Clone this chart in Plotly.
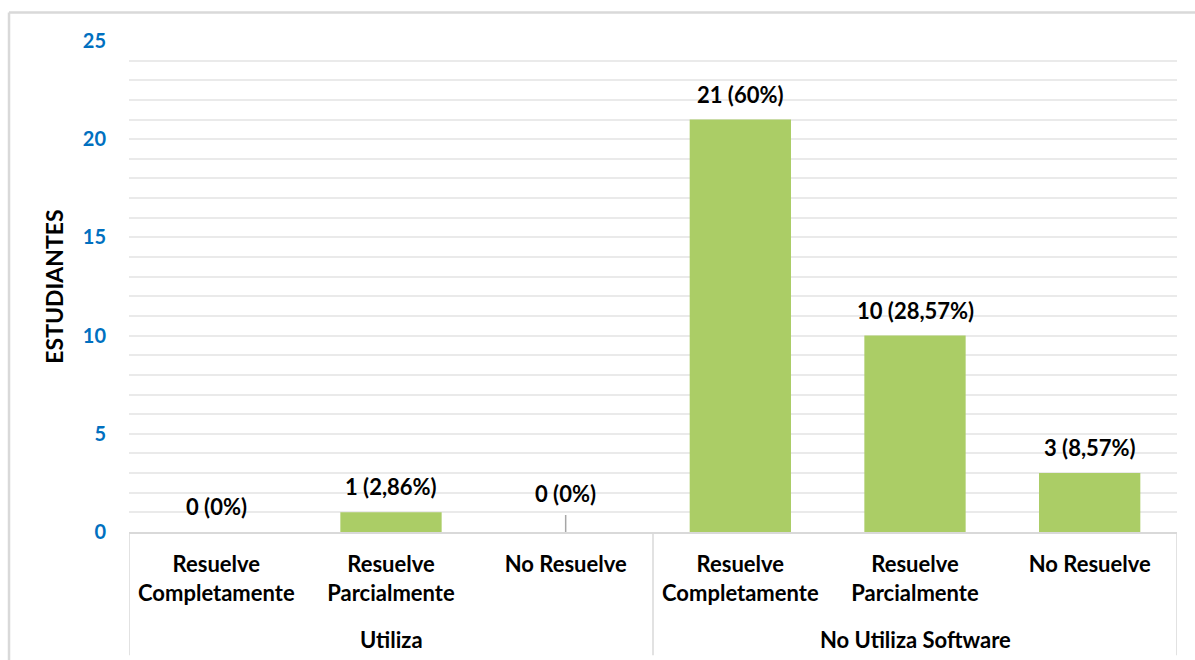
import plotly.graph_objects as go

groups = ["Utiliza", "No Utiliza Software"]
subcategories = ["Resuelve<br>Completamente", "Resuelve<br>Parcialmente", "No Resuelve"]
values = [0, 1, 0, 21, 10, 3]
labels = ["0 (0%)", "1 (2,86%)", "0 (0%)", "21 (60%)", "10 (28,57%)", "3 (8,57%)"]
y_ticks = [0, 5, 10, 15, 20, 25]

FONT = "Lato"
BAR = "#ABCD66"
GRID = "#EAEAEA"
LINE = "#D9D9D9"

xs = list(range(len(values)))
ticktext = subcategories * len(groups)

fig = go.Figure()
fig.add_trace(go.Bar(x=xs, y=values, width=0.58, marker=dict(color=BAR, line=dict(width=0)),
                     hoverinfo="skip", showlegend=False))

annotations = []
for x, v, t in zip(xs, values, labels):
    # the label of the zero bar with a leader line sits higher
    shift = 23 if (v == 0 and x == 2) else 10
    annotations.append(dict(x=x, y=v, xref="x", yref="y", text=f"<b>{t}</b>", showarrow=False,
                            yanchor="bottom", yshift=shift, font=dict(family=FONT, size=22, color="black")))
for gi, g in enumerate(groups):
    annotations.append(dict(x=gi * 3 + 1, y=0, xref="x", yref="paper", text=f"<b>{g}</b>", showarrow=False,
                            yanchor="middle", yshift=-107, font=dict(family=FONT, size=22, color="black")))

shapes = []
for xd in [-0.5, 2.5, 5.5]:
    shapes.append(dict(type="line", xref="x", yref="paper", x0=xd, x1=xd, y0=0, y1=-0.251,
                       line=dict(color=LINE, width=1.5)))
# small zero-value marker line
shapes.append(dict(type="line", xref="x", yref="y", ysizemode="pixel", yanchor=0,
                   x0=2, x1=2, y0=0, y1=17, line=dict(color="#A6A6A6", width=1.5)))
# outer chart border (left and top)
shapes.append(dict(type="line", xref="paper", yref="paper", x0=-0.1145, x1=-0.1145, y0=-0.27, y1=1.058,
                   line=dict(color=LINE, width=2.5)))
shapes.append(dict(type="line", xref="paper", yref="paper", x0=-0.1145, x1=1.03, y0=1.058, y1=1.058,
                   line=dict(color=LINE, width=2.5)))

fig.update_layout(
    width=1195, height=660,
    margin=dict(l=129, r=18, t=41, b=128),
    paper_bgcolor="white", plot_bgcolor="white",
    bargap=0.42,
    annotations=annotations,
    shapes=shapes,
    font=dict(family=FONT, color="black"),
)
fig.update_xaxes(
    range=[-0.5, 5.5], tickvals=xs, ticktext=[f"<b>{t}</b>" for t in ticktext],
    tickfont=dict(family=FONT, size=22, color="black"),
    showgrid=False, zeroline=False, showline=True, linecolor=LINE, linewidth=1.5,
    ticks="", ticklabelstandoff=12,
)
fig.update_yaxes(
    range=[0, 25], tickvals=y_ticks, ticktext=[f"<b>{v}</b>" for v in y_ticks],
    tickfont=dict(family=FONT, size=20, color="#0070C0"),
    showgrid=True, gridcolor=GRID, gridwidth=1.5,
    minor=dict(dtick=1, showgrid=True, gridcolor=GRID, gridwidth=1.5),
    zeroline=False, showline=False, ticks="", ticklabelstandoff=22,
    title=dict(text="<b>ESTUDIANTES</b>", font=dict(family=FONT, size=23, color="black"), standoff=12),
)

fig.write_html("out.html")
